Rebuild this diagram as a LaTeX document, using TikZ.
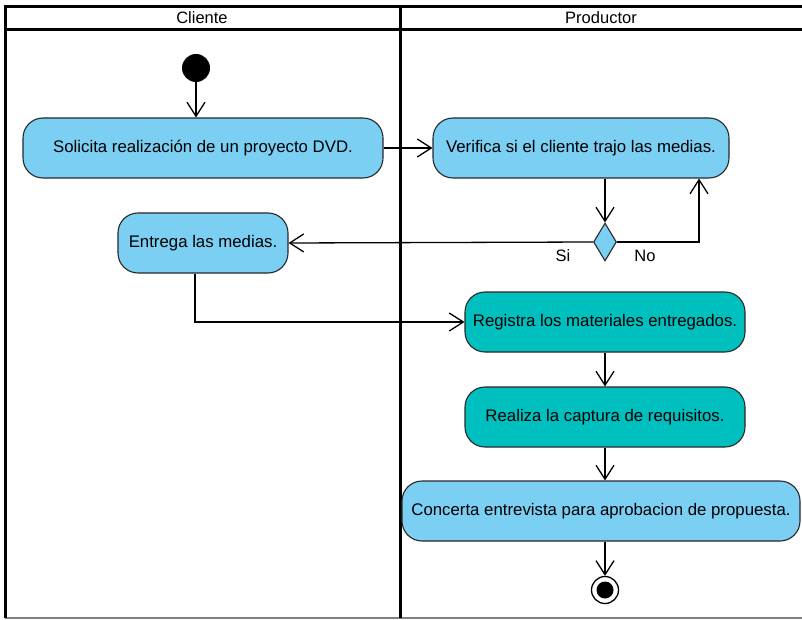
\documentclass[tikz,border=0pt]{standalone}
\usepackage{fontspec}
\setmainfont{Liberation Sans}
\usetikzlibrary{arrows.meta,shapes.geometric}
\definecolor{actblue}{RGB}{122,207,243}
\definecolor{actteal}{RGB}{0,191,191}
\definecolor{bordergray}{RGB}{40,40,40}
\tikzset{
  act/.style={draw=bordergray, line width=1.1pt, rounded corners=20pt, minimum height=60pt, inner sep=0pt, font=\fontsize{16.8}{19}\selectfont, text=black},
  blueact/.style={act, fill=actblue},
  tealact/.style={act, fill=actteal},
  flow/.style={line width=1.3pt, -{Straight Barb[length=14pt,width=18pt,line width=1.3pt]}},
  lane/.style={line width=3pt},
  hdr/.style={font=\fontsize{16.5}{18}\selectfont},
  lbl/.style={font=\fontsize{16.5}{18}\selectfont}
}
\begin{document}
\begin{tikzpicture}[x=1pt,y=-1pt]
\useasboundingbox (0,0) rectangle (802,620);
\begin{scope}
\clip (0,0) rectangle (802,620);
\draw[line width=1.2pt, draw=gray] (5,618) -- (810,618);
\draw[lane] (5,618) -- (5,7) -- (810,7);
\draw[lane] (5,30) -- (810,30);
\draw[lane] (400,7) -- (400,618);
\end{scope}
\node[hdr] (hcli) at (202,18) {Cliente};
\node[hdr] (hprod) at (601,18) {Productor};

% initial / final
\node[circle, fill=black, minimum size=28pt, inner sep=0pt] (start) at (196,68) {};
\node[circle, draw=black, line width=1.3pt, fill=white, minimum size=27pt, inner sep=0pt] (stop) at (605,590) {};
\node[circle, fill=black, minimum size=17pt, inner sep=0pt] (stopin) at (605,590) {};

% activities
\node[blueact, minimum width=360pt] (sol) at (203,148) {Solicita realización de un proyecto DVD.};
\node[blueact, minimum width=296pt] (ver) at (581,148) {Verifica si el cliente trajo las medias.};
\node[blueact, minimum width=170pt] (ent) at (203,243) {Entrega las medias.};
\node[tealact, minimum width=280pt] (reg) at (605,322) {Registra los materiales entregados.};
\node[tealact, minimum width=280pt] (rea) at (605,417) {Realiza la captura de requisitos.};
\node[blueact, minimum width=398pt] (con) at (601,511) {Concerta entrevista para aprobacion de propuesta.};

% decision
\node[diamond, draw=bordergray, line width=1.1pt, fill=actblue, minimum width=23pt, minimum height=38pt, inner sep=0pt] (dec) at (605,242) {};
\node[lbl] (si) at (563,256) {Si};
\node[lbl] (no) at (645,256) {No};

\coordinate (c1) at (195,322);
\coordinate (c2) at (699,242);

% connectors
\draw[flow] (start) -- (start |- sol.north);
\draw[flow] (sol) -- (ver);
\draw[flow] (ver.south -| dec.north) -- (dec.north);
\draw[flow] (dec.east) -- (c2) -- (c2 |- ver.south);
\draw[flow] (dec.west) -- (ent.east);
\draw[flow] (c1 |- ent.south) -- (c1) -- (reg.west);
\draw[flow] (reg) -- (rea);
\draw[flow] (rea.south) -- (rea.south |- con.north);
\draw[flow] (con.south -| stop.north) -- (stop.north);
\end{tikzpicture}
\end{document}
